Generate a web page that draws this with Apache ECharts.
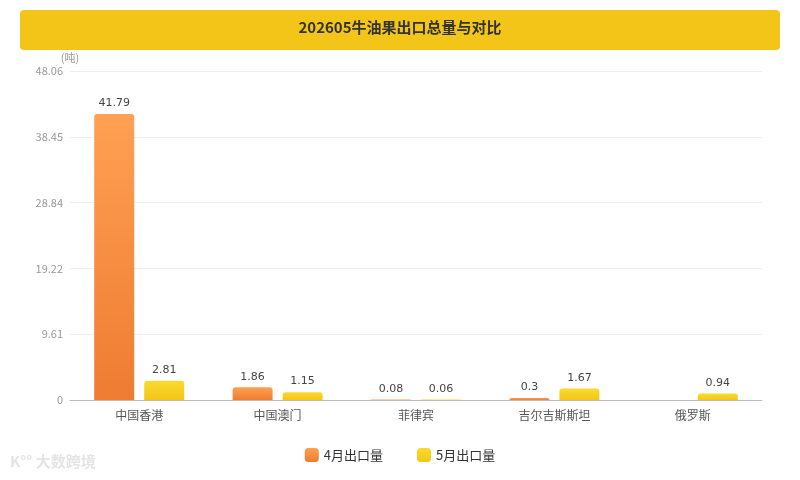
<!DOCTYPE html>
<html>
<head>
<meta charset="utf-8">
<style>
html, body { margin: 0; padding: 0; background: #fff; }
#main { width: 800px; height: 480px; }
</style>
<script src="https://cdn.jsdelivr.net/npm/echarts@6/dist/echarts.min.js"></script>
</head>
<body>
<div id="main"></div>
<script>
// 数据
var categories = ['中国香港', '中国澳门', '菲律宾', '吉尔吉斯斯坦', '俄罗斯'];
var aprilValues = [41.79, 1.86, 0.08, 0.3, null];
var mayValues = [2.81, 1.15, 0.06, 1.67, 0.94];
var seriesNames = ['4月出口量', '5月出口量'];
var yMax = 48.06;

var FONT = '"Noto Sans CJK SC", "Noto Sans", sans-serif';

/* 图表 */
var myChart = echarts.init(document.getElementById('main'));
var option = {
    backgroundColor: '#fff',
    textStyle: { fontFamily: FONT },
    graphic: [
        {
            type: 'rect',
            shape: { x: 20, y: 10, width: 760, height: 40, r: 4 },
            style: { fill: '#F4C519' },
            z: 0
        },
        {
            type: 'text',
            left: 'center',
            top: 20,
            style: {
                text: '202605牛油果出口总量与对比',
                fill: '#333',
                font: 'bold 15px ' + FONT
            },
            z: 1
        },
        {
            type: 'text',
            left: 10,
            top: 454,
            style: {
                text: 'K°° 大数跨境',
                fill: '#e4e4e4',
                font: 'bold 15px ' + FONT
            }
        }
    ],
    legend: {
        bottom: 13,
        left: 'center',
        itemWidth: 14,
        itemHeight: 14,
        itemGap: 34,
        icon: 'roundRect',
        textStyle: { color: '#333', fontSize: 13 },
        data: seriesNames
    },
    grid: {
        left: 70,
        right: 38,
        top: 71,
        bottom: 80
    },
    xAxis: {
        type: 'category',
        data: categories,
        axisTick: { show: false },
        axisLine: { lineStyle: { color: '#bbb' } },
        axisLabel: { color: '#555', fontSize: 12, margin: 9 }
    },
    yAxis: {
        type: 'value',
        name: '(吨)',
        nameGap: 8,
        nameTextStyle: { color: '#999', fontSize: 11, align: 'center' },
        min: 0,
        max: yMax,
        interval: yMax / 5,
        axisLine: { show: false },
        axisTick: { show: false },
        splitLine: { lineStyle: { color: '#eee' } },
        axisLabel: {
            color: '#999',
            fontSize: 11,
            margin: 7,
            formatter: function (v) { return v === 0 ? '0' : v.toFixed(2); }
        }
    },
    series: [
        {
            name: seriesNames[0],
            type: 'bar',
            barWidth: 40,
            barGap: '25%',
            itemStyle: {
                borderRadius: [3, 3, 0, 0],
                color: new echarts.graphic.LinearGradient(0, 0, 0, 1, [
                    { offset: 0, color: '#FFA052' },
                    { offset: 1, color: '#EE7C32' }
                ])
            },
            label: {
                show: true,
                position: 'top',
                color: '#444',
                fontSize: 11,
                fontFamily: '"DejaVu Sans", sans-serif'
            },
            data: aprilValues
        },
        {
            name: seriesNames[1],
            type: 'bar',
            barWidth: 40,
            itemStyle: {
                borderRadius: [3, 3, 0, 0],
                color: new echarts.graphic.LinearGradient(0, 0, 0, 1, [
                    { offset: 0, color: '#FADA2E' },
                    { offset: 1, color: '#F4C519' }
                ])
            },
            label: {
                show: true,
                position: 'top',
                color: '#444',
                fontSize: 11,
                fontFamily: '"DejaVu Sans", sans-serif'
            },
            data: mayValues
        }
    ],
    color: ['#F08434', '#F4C81E']
};
myChart.setOption(option);
</script>
</body>
</html>
